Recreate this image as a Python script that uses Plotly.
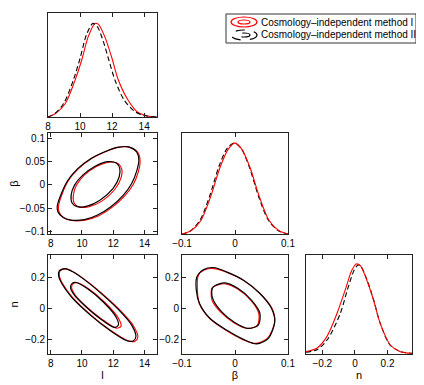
import plotly.graph_objects as go

# ---- marginal of l ----
l_red_x = [8.0, 8.45, 9.07, 9.69, 10.1, 10.51, 10.93, 11.15, 11.54, 11.96, 12.37, 12.99, 13.6, 14.2, 14.8]
l_red_y = [0.0, 0.035, 0.14, 0.39, 0.60, 0.85, 0.99, 0.98, 0.85, 0.64, 0.40, 0.18, 0.05, 0.01, 0.0]
l_blk_x = [8.0, 8.45, 9.0, 9.6, 10.0, 10.4, 10.8, 11.1, 11.45, 11.8, 12.2, 12.75, 13.4, 14.0, 14.8]
l_blk_y = [0.0, 0.04, 0.15, 0.40, 0.62, 0.87, 0.99, 0.95, 0.80, 0.60, 0.38, 0.18, 0.06, 0.015, 0.0]

# ---- marginal of beta ----
b_red_x = [-0.1, -0.083, -0.064, -0.046, -0.028, -0.012, 0.0, 0.012, 0.028, 0.046, 0.064, 0.083, 0.1]
b_red_y = [0.0, 0.036, 0.15, 0.405, 0.73, 0.93, 0.99, 0.93, 0.73, 0.405, 0.15, 0.036, 0.0]
b_blk_x = [-0.1, -0.085, -0.066, -0.048, -0.03, -0.014, -0.001, 0.012, 0.027, 0.045, 0.063, 0.082, 0.1]
b_blk_y = [0.0, 0.03, 0.15, 0.41, 0.74, 0.94, 0.99, 0.93, 0.73, 0.40, 0.15, 0.035, 0.0]

# ---- marginal of n ----
n_red_x = [-0.3, -0.234, -0.173, -0.11, -0.06, -0.019, 0.008, 0.032, 0.073, 0.114, 0.155, 0.217, 0.278, 0.35]
n_red_y = [0.026, 0.063, 0.19, 0.45, 0.71, 0.93, 1.0, 0.985, 0.82, 0.60, 0.34, 0.10, 0.026, 0.007]
n_blk_x = [-0.3, -0.23, -0.165, -0.09, -0.045, -0.005, 0.02, 0.035, 0.075, 0.115, 0.155, 0.215, 0.275, 0.35]
n_blk_y = [0.02, 0.05, 0.17, 0.45, 0.72, 0.93, 0.99, 0.98, 0.82, 0.60, 0.34, 0.10, 0.03, 0.007]

# ---- l vs beta contours ----
lb_out_blk_x = [8.42, 8.68, 9.1, 9.73, 10.58, 11.42, 12.27, 13.0, 13.5, 13.64, 13.52, 13.18, 12.65, 11.85, 11.0, 10.16, 9.31, 8.78, 8.46, 8.42]
lb_out_blk_y = [-0.046, -0.019, 0.01, 0.035, 0.057, 0.071, 0.081, 0.082, 0.071, 0.053, 0.032, 0.003, -0.022, -0.047, -0.065, -0.075, -0.076, -0.07, -0.058, -0.046]
lb_out_red_x = [8.5, 8.74, 9.15, 9.78, 10.62, 11.46, 12.3, 13.05, 13.58, 13.72, 13.62, 13.28, 12.72, 11.9, 11.05, 10.2, 9.35, 8.84, 8.53, 8.5]
lb_out_red_y = [-0.046, -0.019, 0.01, 0.035, 0.057, 0.071, 0.081, 0.081, 0.07, 0.052, 0.03, 0.001, -0.024, -0.049, -0.067, -0.076, -0.077, -0.071, -0.058, -0.046]
lb_in_blk_x = [9.31, 9.52, 10.05, 10.79, 11.63, 12.2, 12.42, 12.38, 11.98, 11.15, 10.33, 9.7, 9.37, 9.31]
lb_in_blk_y = [-0.022, -0.001, 0.021, 0.039, 0.05, 0.047, 0.035, 0.017, -0.008, -0.033, -0.046, -0.047, -0.039, -0.022]
lb_in_red_x = [9.45, 9.65, 10.15, 10.9, 11.72, 12.3, 12.55, 12.5, 12.1, 11.28, 10.45, 9.82, 9.5, 9.45]
lb_in_red_y = [-0.022, -0.001, 0.021, 0.039, 0.049, 0.046, 0.034, 0.015, -0.01, -0.035, -0.047, -0.048, -0.039, -0.022]

# ---- l vs n contours ----
ln_out_blk_x = [8.55, 8.91, 9.42, 10.34, 11.35, 12.37, 13.18, 13.45, 13.29, 12.88, 11.76, 10.54, 9.32, 8.71, 8.51, 8.55]
ln_out_blk_y = [0.243, 0.258, 0.237, 0.172, 0.086, -0.011, -0.108, -0.183, -0.209, -0.209, -0.14, -0.043, 0.075, 0.161, 0.209, 0.243]
ln_out_red_x = [8.6, 8.96, 9.47, 10.4, 11.42, 12.45, 13.28, 13.58, 13.4, 12.95, 11.8, 10.58, 9.37, 8.76, 8.56, 8.6]
ln_out_red_y = [0.243, 0.256, 0.235, 0.17, 0.084, -0.013, -0.11, -0.186, -0.212, -0.21, -0.14, -0.043, 0.075, 0.161, 0.209, 0.243]
ln_in_blk_x = [9.36, 9.63, 10.34, 11.35, 12.17, 12.33, 12.07, 11.15, 10.13, 9.52, 9.27, 9.36]
ln_in_blk_y = [0.161, 0.168, 0.129, 0.043, -0.054, -0.108, -0.123, -0.065, 0.022, 0.086, 0.135, 0.161]
ln_in_red_x = [9.44, 9.7, 10.42, 11.45, 12.3, 12.5, 12.22, 11.25, 10.2, 9.58, 9.34, 9.44]
ln_in_red_y = [0.161, 0.166, 0.127, 0.04, -0.058, -0.115, -0.128, -0.068, 0.02, 0.085, 0.135, 0.161]

# ---- beta vs n contours ----
bn_out_blk_x = [-0.072, -0.059, -0.041, -0.016, 0.016, 0.047, 0.069, 0.075, 0.063, 0.041, 0.016, -0.016, -0.047, -0.067, -0.073, -0.072]
bn_out_blk_y = [0.204, 0.252, 0.265, 0.237, 0.183, 0.097, 0.0, -0.086, -0.194, -0.23, -0.2, -0.14, -0.065, 0.032, 0.118, 0.204]
bn_out_red_x = [-0.069, -0.057, -0.04, -0.016, 0.017, 0.048, 0.07, 0.075, 0.062, 0.04, 0.015, -0.017, -0.048, -0.067, -0.071, -0.069]
bn_out_red_y = [0.215, 0.25, 0.258, 0.235, 0.18, 0.095, 0.0, -0.085, -0.19, -0.226, -0.202, -0.142, -0.065, 0.03, 0.12, 0.215]
bn_in_blk_x = [-0.041, -0.019, 0.006, 0.031, 0.047, 0.044, 0.025, 0.0, -0.025, -0.041, -0.044, -0.041]
bn_in_blk_y = [0.14, 0.166, 0.129, 0.054, -0.032, -0.108, -0.129, -0.092, -0.022, 0.054, 0.108, 0.14]
bn_in_red_x = [-0.043, -0.02, 0.005, 0.03, 0.045, 0.042, 0.023, -0.002, -0.027, -0.043, -0.045, -0.043]
bn_in_red_y = [0.135, 0.16, 0.126, 0.052, -0.034, -0.11, -0.13, -0.093, -0.024, 0.05, 0.105, 0.135]

# the page body adds an 8px margin, so the figure is a bit smaller than the window
OFF = 8
W, H = 424 - OFF, 385 - OFF
RED = "#ff0000"
BLK = "#000000"


def px(x):
    return (x - OFF) / W


def py(y):
    return 1 - (y - OFF) / H


fig = go.Figure()


def add(x, y, xa, ya, color, dash="solid", width=1.1):
    fig.add_trace(go.Scatter(x=x, y=y, xaxis=xa, yaxis=ya, mode="lines",
                             line=dict(color=color, dash=dash, width=width, shape="spline", smoothing=0.8),
                             showlegend=False, hoverinfo="skip"))


# marginals: red solid, black dashed
add(l_red_x, l_red_y, "x", "y", RED)
add(l_blk_x, l_blk_y, "x", "y", BLK, dash="5px,3px")
add(b_blk_x, b_blk_y, "x3", "y3", BLK, dash="5px,3px")
add(b_red_x, b_red_y, "x3", "y3", RED)
add(n_blk_x, n_blk_y, "x6", "y6", BLK, dash="5px,3px")
add(n_red_x, n_red_y, "x6", "y6", RED)

# contours
for xa, ya, curves in [
    ("x2", "y2", [(lb_out_red_x, lb_out_red_y, lb_out_blk_x, lb_out_blk_y),
                  (lb_in_red_x, lb_in_red_y, lb_in_blk_x, lb_in_blk_y)]),
    ("x4", "y4", [(ln_out_red_x, ln_out_red_y, ln_out_blk_x, ln_out_blk_y),
                  (ln_in_red_x, ln_in_red_y, ln_in_blk_x, ln_in_blk_y)]),
    ("x5", "y5", [(bn_out_red_x, bn_out_red_y, bn_out_blk_x, bn_out_blk_y),
                  (bn_in_red_x, bn_in_red_y, bn_in_blk_x, bn_in_blk_y)]),
]:
    for rx, ry, kx, ky in curves:
        add(rx, ry, xa, ya, RED, width=1.1)
        add(kx, ky, xa, ya, BLK, width=1.2)

col1 = [px(48), px(157)]
col2 = [px(182), px(288)]
col3 = [px(306), px(412)]
row1 = [py(117), py(13)]
row2 = [py(234), py(133)]
row3 = [py(354), py(255)]

font = dict(family="Liberation Sans, Arial, sans-serif", size=10, color="black")
tfont = dict(family="Liberation Sans, Arial, sans-serif", size=11, color="black")
ax = dict(showgrid=False, zeroline=False, showline=True, linecolor="#222", linewidth=1,
          mirror="ticks", ticks="inside", ticklen=4, tickcolor="#222", tickfont=font,
          automargin=False)

l_ticks = [8, 10, 12, 14]
b_ticks = [-0.1, 0, 0.1]
b_yticks = [-0.1, -0.05, 0, 0.05, 0.1]
n_ticks = [-0.2, 0, 0.2]

fig.update_layout(
    width=W, height=H, margin=dict(l=0, r=0, t=0, b=0),
    paper_bgcolor="white", plot_bgcolor="white", font=font,
    xaxis=dict(ax, domain=col1, anchor="y", range=[8, 14.8], tickvals=l_ticks),
    yaxis=dict(ax, domain=row1, anchor="x", range=[0, 1.1], showticklabels=False, ticks=""),
    xaxis2=dict(ax, domain=col1, anchor="y2", range=[7.83, 14.8], tickvals=l_ticks),
    yaxis2=dict(ax, domain=row2, anchor="x2", range=[-0.106, 0.112], tickvals=b_yticks,
                ticktext=["\u22120.1", "\u22120.05", "0", "0.05", "0.1"],
                title=dict(text="\u03b2", font=tfont, standoff=15)),
    xaxis3=dict(ax, domain=col2, anchor="y3", range=[-0.1, 0.1], tickvals=b_ticks),
    yaxis3=dict(ax, domain=row2, anchor="x3", range=[0, 1.1], showticklabels=False, ticks=""),
    xaxis4=dict(ax, domain=col1, anchor="y4", range=[7.83, 14.8], tickvals=l_ticks,
                title=dict(text="l", font=tfont, standoff=3)),
    yaxis4=dict(ax, domain=row3, anchor="x4", range=[-0.295, 0.346], tickvals=n_ticks,
                title=dict(text="n", font=tfont, standoff=9)),
    xaxis5=dict(ax, domain=col2, anchor="y5", range=[-0.1, 0.1], tickvals=b_ticks,
                title=dict(text="\u03b2", font=tfont, standoff=3)),
    yaxis5=dict(ax, domain=row3, anchor="x5", range=[-0.295, 0.346], tickvals=n_ticks),
    xaxis6=dict(ax, domain=col3, anchor="y6", range=[-0.3, 0.35], tickvals=n_ticks,
                title=dict(text="n", font=tfont, standoff=3)),
    yaxis6=dict(ax, domain=row3, anchor="x6", range=[0, 1.1], showticklabels=False, ticks=""),
)

# hand-drawn legend with ellipse icons
shapes = [dict(type="rect", xref="paper", yref="paper", x0=px(226), x1=px(416), y0=py(43), y1=py(14),
               line=dict(color="#333", width=1), fillcolor="white")]
for yc, color, dash in [(22, RED, "solid"), (35, BLK, "dash")]:
    shapes.append(dict(type="circle", xref="paper", yref="paper", x0=px(231), x1=px(257),
                       y0=py(yc + 5), y1=py(yc - 5), line=dict(color=color, width=1.2, dash=dash)))
    shapes.append(dict(type="circle", xref="paper", yref="paper", x0=px(238), x1=px(250),
                       y0=py(yc + 2), y1=py(yc - 2), line=dict(color=color, width=1.2, dash=dash)))
fig.update_layout(shapes=shapes)
for yc, txt in [(22, "Cosmology\u2013independent method I"), (35, "Cosmology\u2013independent method II")]:
    fig.add_annotation(x=px(259), y=py(yc), xref="paper", yref="paper", text=txt, showarrow=False,
                       xanchor="left", yanchor="middle", font=font)

fig.write_html("out.html")
